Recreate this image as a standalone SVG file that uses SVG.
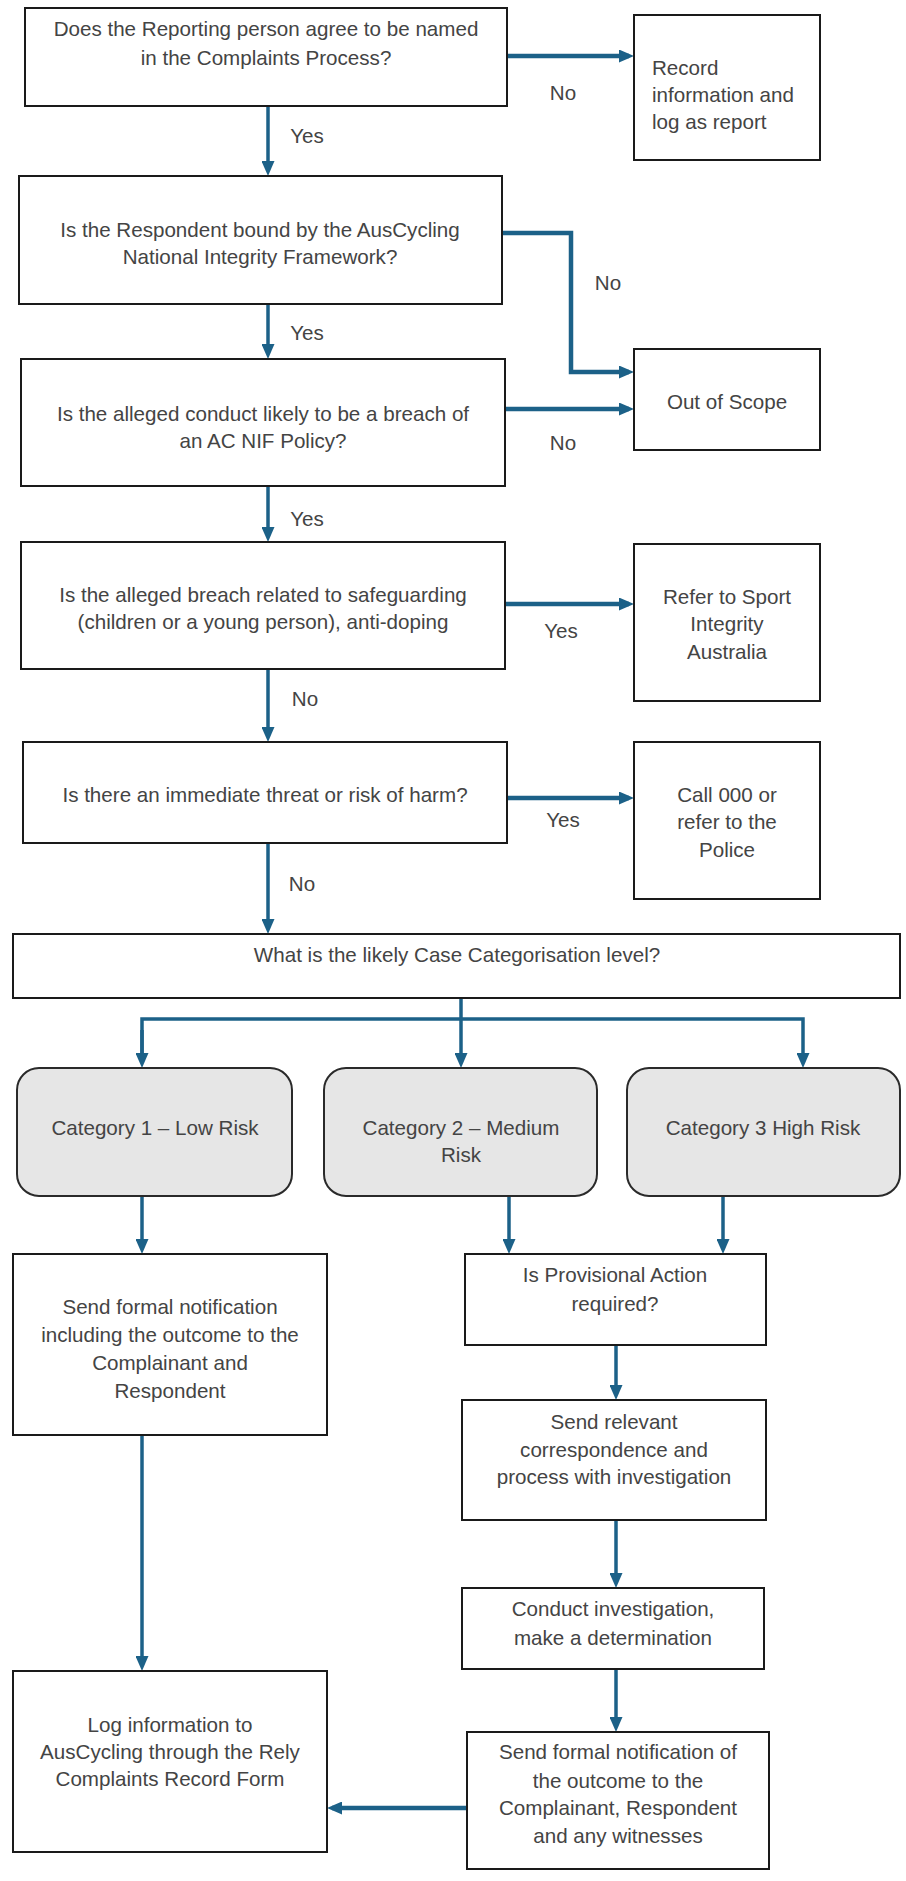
<svg xmlns="http://www.w3.org/2000/svg" width="906" height="1881" viewBox="0 0 906 1881">
<defs>
<style>
.box{fill:#ffffff;stroke:#1a1a1a;stroke-width:2}
.cat{fill:#e6e6e6;stroke:#2a2a2a;stroke-width:2}
text{font-family:"Liberation Sans",Arial,sans-serif;font-size:20.6px;fill:#444444}
.c{text-anchor:middle}
.lbl{text-anchor:middle}
.con{fill:none;stroke:#1c6188;stroke-width:3.5}
.conh{fill:none;stroke:#1c6188;stroke-width:4.5}
</style>
<marker id="arr" markerUnits="userSpaceOnUse" markerWidth="15" markerHeight="13" viewBox="0 0 15 13" refX="10" refY="6.5" orient="auto">
<path d="M0,0 L15,6.5 L0,13 z" fill="#1c6188"/>
</marker>
</defs>
<rect width="906" height="1881" fill="#ffffff"/>

<g id="connectors">
<line class="conh" x1="507" y1="56" x2="629" y2="56" marker-end="url(#arr)"/>
<line class="con" x1="268" y1="106" x2="268" y2="171" marker-end="url(#arr)"/>
<polyline class="conh" points="502,233 571,233 571,372 629,372" marker-end="url(#arr)"/>
<line class="con" x1="268" y1="304" x2="268" y2="354" marker-end="url(#arr)"/>
<line class="conh" x1="505" y1="409" x2="629" y2="409" marker-end="url(#arr)"/>
<line class="con" x1="268" y1="486" x2="268" y2="537" marker-end="url(#arr)"/>
<line class="conh" x1="505" y1="604" x2="629" y2="604" marker-end="url(#arr)"/>
<line class="con" x1="268" y1="669" x2="268" y2="737" marker-end="url(#arr)"/>
<line class="conh" x1="507" y1="798" x2="629" y2="798" marker-end="url(#arr)"/>
<line class="con" x1="268" y1="843" x2="268" y2="929" marker-end="url(#arr)"/>
<polyline class="con" points="461,998 461,1019"/>
<polyline class="con" points="142,1063 142,1019 803,1019 803,1063" marker-end="url(#arr)"/>
<line class="con" x1="142" y1="1030" x2="142" y2="1063" marker-end="url(#arr)"/>
<line class="con" x1="461" y1="1019" x2="461" y2="1063" marker-end="url(#arr)"/>
<line class="con" x1="142" y1="1196" x2="142" y2="1249" marker-end="url(#arr)"/>
<line class="con" x1="509" y1="1196" x2="509" y2="1249" marker-end="url(#arr)"/>
<line class="con" x1="723" y1="1196" x2="723" y2="1249" marker-end="url(#arr)"/>
<line class="con" x1="616" y1="1345" x2="616" y2="1395" marker-end="url(#arr)"/>
<line class="con" x1="142" y1="1435" x2="142" y2="1666" marker-end="url(#arr)"/>
<line class="con" x1="616" y1="1520" x2="616" y2="1583" marker-end="url(#arr)"/>
<line class="con" x1="616" y1="1669" x2="616" y2="1727" marker-end="url(#arr)"/>
<line class="conh" x1="467" y1="1808" x2="332" y2="1808" marker-end="url(#arr)"/>
<text class="lbl" x="563" y="100">No</text>
<text class="lbl" x="307" y="143">Yes</text>
<text class="lbl" x="608" y="290">No</text>
<text class="lbl" x="307" y="340">Yes</text>
<text class="lbl" x="563" y="450">No</text>
<text class="lbl" x="307" y="526">Yes</text>
<text class="lbl" x="561" y="638">Yes</text>
<text class="lbl" x="305" y="706">No</text>
<text class="lbl" x="563" y="827">Yes</text>
<text class="lbl" x="302" y="891">No</text>
</g>

<g id="q1">
<rect class="box" x="25" y="8" width="482" height="98"/>
<text class="c" x="266" y="36">Does the Reporting person agree to be named</text>
<text class="c" x="266" y="65">in the Complaints Process?</text>
</g>
<g id="record">
<rect class="box" x="634" y="15" width="186" height="145"/>
<text x="652" y="75">Record</text>
<text x="652" y="102">information and</text>
<text x="652" y="129">log as report</text>
</g>
<g id="q2">
<rect class="box" x="19" y="176" width="483" height="128"/>
<text class="c" x="260" y="237">Is the Respondent bound by the AusCycling</text>
<text class="c" x="260" y="264">National Integrity Framework?</text>
</g>
<g id="scope">
<rect class="box" x="634" y="349" width="186" height="101"/>
<text class="c" x="727" y="409">Out of Scope</text>
</g>
<g id="q3">
<rect class="box" x="21" y="359" width="484" height="127"/>
<text class="c" x="263" y="421">Is the alleged conduct likely to be a breach of</text>
<text class="c" x="263" y="448">an AC NIF Policy?</text>
</g>
<g id="q4">
<rect class="box" x="21" y="542" width="484" height="127"/>
<text class="c" x="263" y="602">Is the alleged breach related to safeguarding</text>
<text class="c" x="263" y="629">(children or a young person), anti-doping</text>
</g>
<g id="refer">
<rect class="box" x="634" y="544" width="186" height="157"/>
<text class="c" x="727" y="604">Refer to Sport</text>
<text class="c" x="727" y="631">Integrity</text>
<text class="c" x="727" y="659">Australia</text>
</g>
<g id="q5">
<rect class="box" x="23" y="742" width="484" height="101"/>
<text class="c" x="265" y="802">Is there an immediate threat or risk of harm?</text>
</g>
<g id="call">
<rect class="box" x="634" y="742" width="186" height="157"/>
<text class="c" x="727" y="802">Call 000 or</text>
<text class="c" x="727" y="829">refer to the</text>
<text class="c" x="727" y="857">Police</text>
</g>
<g id="category">
<rect class="box" x="13" y="934" width="887" height="64"/>
<text class="c" x="457" y="962">What is the likely Case Categorisation level?</text>
</g>
<g id="cat1">
<rect class="cat" x="17" y="1068" width="275" height="128" rx="22" ry="22"/>
<text class="c" x="155" y="1135">Category 1 – Low Risk</text>
</g>
<g id="cat2">
<rect class="cat" x="324" y="1068" width="273" height="128" rx="22" ry="22"/>
<text class="c" x="461" y="1135">Category 2 – Medium</text>
<text class="c" x="461" y="1162">Risk</text>
</g>
<g id="cat3">
<rect class="cat" x="627" y="1068" width="273" height="128" rx="22" ry="22"/>
<text class="c" x="763" y="1135">Category 3 High Risk</text>
</g>
<g id="notify1">
<rect class="box" x="13" y="1254" width="314" height="181"/>
<text class="c" x="170" y="1314">Send formal notification</text>
<text class="c" x="170" y="1342">including the outcome to the</text>
<text class="c" x="170" y="1370">Complainant and</text>
<text class="c" x="170" y="1398">Respondent</text>
</g>
<g id="provisional">
<rect class="box" x="465" y="1254" width="301" height="91"/>
<text class="c" x="615" y="1282">Is Provisional Action</text>
<text class="c" x="615" y="1311">required?</text>
</g>
<g id="correspondence">
<rect class="box" x="462" y="1400" width="304" height="120"/>
<text class="c" x="614" y="1429">Send relevant</text>
<text class="c" x="614" y="1457">correspondence and</text>
<text class="c" x="614" y="1484">process with investigation</text>
</g>
<g id="investigate">
<rect class="box" x="462" y="1588" width="302" height="81"/>
<text class="c" x="613" y="1616">Conduct investigation,</text>
<text class="c" x="613" y="1645">make a determination</text>
</g>
<g id="notify2">
<rect class="box" x="467" y="1732" width="302" height="137"/>
<text class="c" x="618" y="1759">Send formal notification of</text>
<text class="c" x="618" y="1788">the outcome to the</text>
<text class="c" x="618" y="1815">Complainant, Respondent</text>
<text class="c" x="618" y="1843">and any witnesses</text>
</g>
<g id="log">
<rect class="box" x="13" y="1671" width="314" height="181"/>
<text class="c" x="170" y="1732">Log information to</text>
<text class="c" x="170" y="1759">AusCycling through the Rely</text>
<text class="c" x="170" y="1786">Complaints Record Form</text>
</g>
</svg>
